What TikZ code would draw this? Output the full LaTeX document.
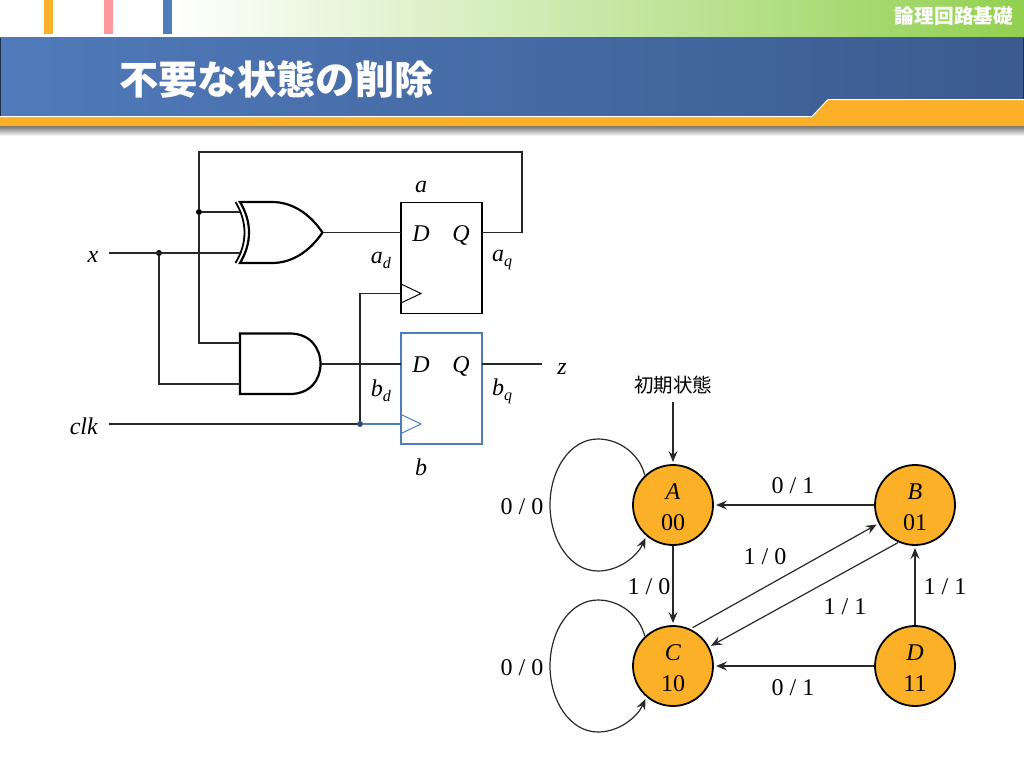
\documentclass[tikz,border=0pt]{standalone}
\usepackage{fontspec}
\setmainfont{Liberation Serif}
\newfontfamily\cjk{Noto Sans CJK JP}
\usetikzlibrary{arrows,arrows.meta,%
                shapes,positioning}
\definecolor{stateorange}{RGB}{251,176,40}
\definecolor{ffblue}{RGB}{79,124,186}
\definecolor{wiregray}{RGB}{40,40,40}
\definecolor{stripepink}{RGB}{255,153,158}
\definecolor{bandgreen}{RGB}{146,208,80}
\newcommand{\lowsub}[2]{\textit{#1}\raisebox{-5pt}{\fontsize{16}{16}\selectfont\textit{#2}}}
\tikzset{
  lbl/.style={font=\fontsize{24}{24}\selectfont,inner sep=0pt},
  ffbox/.style={draw,minimum width=81pt,minimum height=111pt,line width=1.8pt,inner sep=0pt},
  gate/.style={line width=2.2pt,line join=miter},
  wire/.style={line width=1.2pt,draw=wiregray},
  jdot/.style={circle,fill=black,inner sep=0pt,minimum size=6pt},
  state/.style={circle,draw=black,line width=1.8pt,fill=stateorange,minimum size=80pt,inner sep=0pt,outer sep=3pt,
    align=center,font=\fontsize{24}{31}\selectfont},
  edge/.style={line width=1.2pt,draw=wiregray,shorten <=-2pt,-{Stealth[length=11pt,width=9pt,inset=4pt]}}
}
\begin{document}
\begin{tikzpicture}[x=1pt,y=-1pt]
\useasboundingbox (0,0) rectangle (1024,768);
\shade[left color=white,right color=bandgreen] (170,0) rectangle (1024,38);
\fill[stateorange] (44,0) rectangle (53,34);
\fill[stripepink] (104,0) rectangle (113,34);
\fill[ffblue] (163,0) rectangle (172,34);
\shade[left color={rgb,255:red,80;green,122;blue,186},right color={rgb,255:red,59;green,91;blue,143}] (0,38) rectangle (1024,118);
\fill[black!60!ffblue] (0,38) rectangle (1,116);
\fill[black!60!ffblue] (1023,38) rectangle (1024,100);
\shade[top color=black!55,bottom color=white] (0,126) rectangle (1024,136);
\fill[stateorange] (0,117) -- (812,117) -- (828,100) -- (1024,100) -- (1024,126) -- (0,126) -- cycle;
\draw[white,line width=1pt] (0,116.5) -- (812,116.5) -- (828,99.5) -- (1024,99.5);
\node[font=\cjk\bfseries\fontsize{39.3}{39}\selectfont,text=white,inner sep=0pt] (title) at (276.5,80) {不要な状態の削除};
\node[font=\cjk\bfseries\fontsize{19.7}{20}\selectfont,text=white,inner sep=0pt] (course) at (954,16) {論理回路基礎};

\node[ffbox] (ffa) at (441.5,258) {};
\node[ffbox,draw=ffblue] (ffb) at (441.5,388.5) {};
\draw[line width=1pt] (401,284) -- (421,293.5) -- (401,303);
\draw[line width=1pt,ffblue] (401,414.5) -- (421,424) -- (401,433.5);
\draw[gate] (240,202) -- (272,202) .. controls (295,202) and (312,217) .. (322.5,232.5)
  .. controls (312,248) and (295,263) .. (272,263) -- (240,263) .. controls (252,243) and (252,222) .. cycle;
\draw[gate,line width=1.8pt] (235.5,202) .. controls (247.5,222) and (247.5,243) .. (235.5,263);
\draw[gate] (240,333.5) -- (290,333.5) .. controls (310,333.5) and (320.5,348) .. (320.5,364)
  .. controls (320.5,380) and (310,394) .. (290,394) -- (240,394) -- cycle;

\node[jdot] (dota) at (199,212) {};
\node[jdot] (dotx) at (159,253) {};
\node[jdot,fill=ffblue!60!black] (dotclk) at (360,424) {};
\coordinate (xin) at (109,253);
\coordinate (clkin) at (109,424);
\coordinate (zout) at (542,364);
\coordinate (xora) at (240,212);
\coordinate (xorb) at (240,253);
\coordinate (xorout) at (322.5,232.5);
\coordinate (anda) at (240,343);
\coordinate (andb) at (240,384);
\coordinate (andout) at (320.5,364);
\coordinate (ffad) at (401,232.5);
\coordinate (ffaq) at (482,232.5);
\coordinate (ffac) at (401,293.5);
\coordinate (ffbd) at (401,364);
\coordinate (ffbq) at (482,364);
\coordinate (ffbc) at (401,424);
\draw[wire] (ffaq) -- (522,232.5) -- (522,152) -- (199,152) -- (dota);
\draw[wire] (dota) -- (xora);
\draw[wire] (dota) |- (anda);
\draw[wire] (xin) -- (xorb);
\draw[wire] (dotx) |- (andb);
\draw[wire] (xorout) -- (ffad);
\draw[wire] (andout) -- (ffbd);
\draw[wire] (ffbq) -- (zout);
\draw[wire] (clkin) -- (dotclk);
\draw[wire] (dotclk) |- (ffac);
\draw[wire,draw=ffblue] (dotclk) -- (ffbc);

\node[lbl] (lbla) at (421,187) {\textit{a}};
\node[lbl] (lblb) at (421,467) {\textit{b}};
\node[lbl] (lblx) at (93,257) {\textit{x}};
\node[lbl] (lblclk) at (84,426) {\textit{clk}};
\node[lbl] (lblz) at (562,369) {\textit{z}};
\node[lbl] (dina) at (421,234) {\textit{D}};
\node[lbl] (qina) at (461,235) {\textit{Q}};
\node[lbl] (dinb) at (421,365) {\textit{D}};
\node[lbl] (qinb) at (461,366) {\textit{Q}};
\node[lbl] (lblad) at (381,260) {\lowsub{a}{d}};
\node[lbl] (lblaq) at (502,260) {\lowsub{a}{q}};
\node[lbl] (lblbd) at (381,391) {\lowsub{b}{d}};
\node[lbl] (lblbq) at (502,391) {\lowsub{b}{q}};

\node[font=\cjk\fontsize{19.5}{20}\selectfont,inner sep=0pt] (init) at (673,385) {初期状態};
\node[state] (A) at (673,505) {\rule{0pt}{20pt}\textit{A}\\00};
\node[state] (B) at (915,505) {\rule{0pt}{20pt}\textit{B}\\01};
\node[state] (C) at (673,666) {\rule{0pt}{20pt}\textit{C}\\10};
\node[state] (D) at (915,666) {\rule{0pt}{20pt}\textit{D}\\11};
\draw[edge,shorten <=8pt] (init) -- (A);
\draw[edge] (B) -- (A);
\draw[edge] (A) -- (C);
\draw[edge] (D) -- (C);
\draw[edge] (D) -- (B);
\draw[edge,shorten <=0pt] (C.63) -- (B.207);
\draw[edge] (B.244) -- (C.28);
\draw[edge] (A.132) .. controls (640,455) and (620,439) .. (598,439) .. controls (570,439) and (550,470) .. (550,505)
  .. controls (550,540) and (570,571) .. (598,571) .. controls (620,571) and (638,555) .. (A.230);
\draw[edge] (C.132) .. controls (640,616) and (620,600) .. (598,600) .. controls (570,600) and (550,631) .. (550,666)
  .. controls (550,701) and (570,732) .. (598,732) .. controls (620,732) and (638,716) .. (C.230);
\node[lbl] (tab) at (793,486) {0 / 1};
\node[lbl] (tca) at (765,557) {1 / 0};
\node[lbl] (tbc) at (845,607) {1 / 1};
\node[lbl] (tdb) at (945,587) {1 / 1};
\node[lbl] (tac) at (649,587) {1 / 0};
\node[lbl] (taa) at (522,507) {0 / 0};
\node[lbl] (tcc) at (522,668) {0 / 0};
\node[lbl] (tdc) at (793,688) {0 / 1};
\end{tikzpicture}
\end{document}
